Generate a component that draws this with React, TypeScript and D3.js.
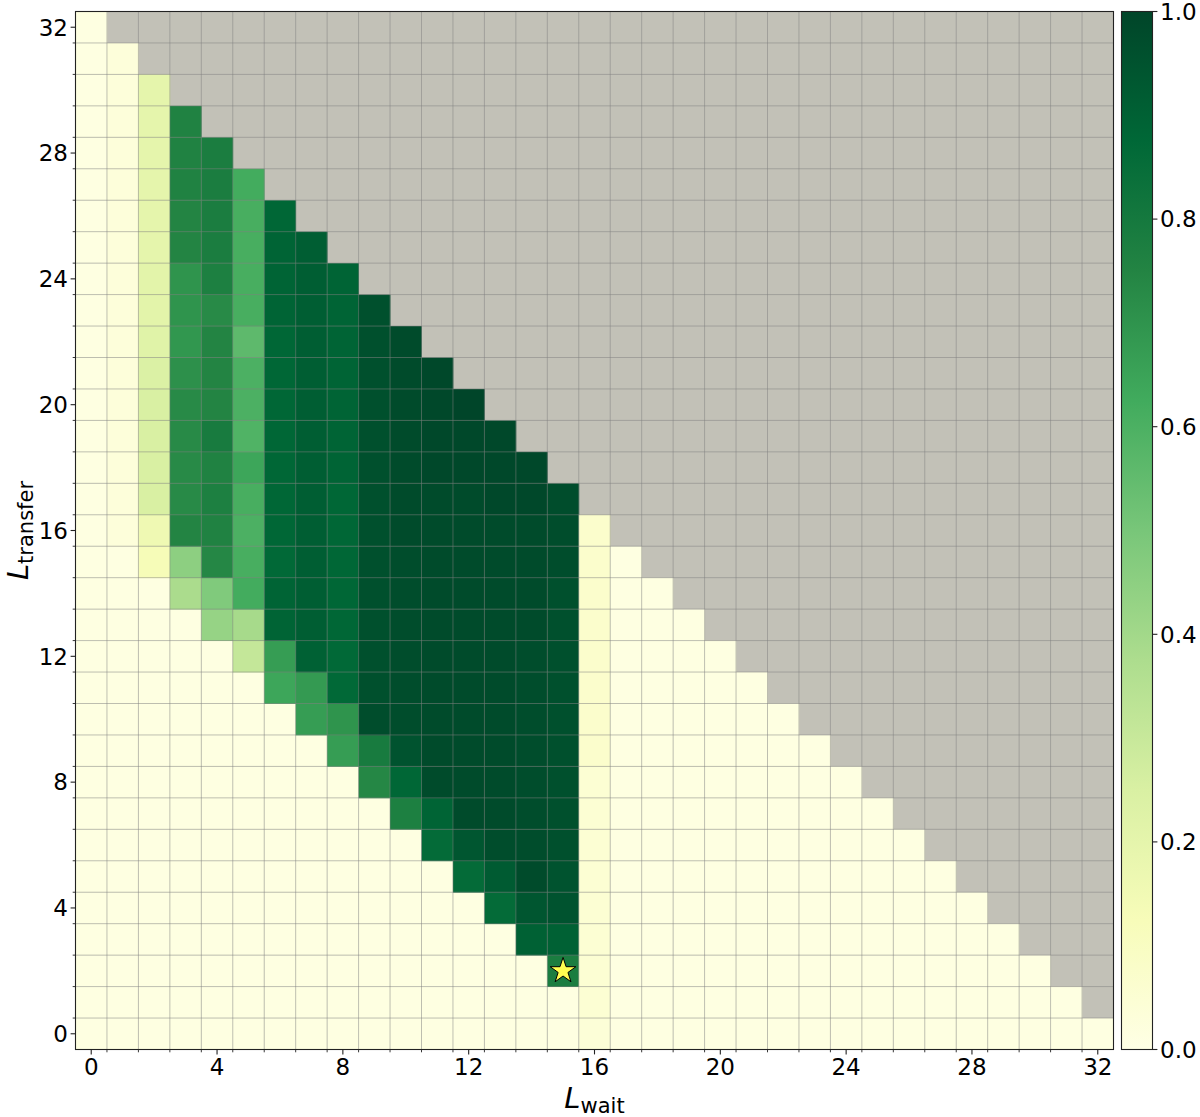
import React from 'react';
import * as d3 from 'd3';

// L_wait categories (columns) and L_transfer categories (rows)
const waitLevels = d3.range(0, 33);
const xTickValues = [0, 4, 8, 12, 16, 20, 24, 28, 32];
const yTickValues = [0, 4, 8, 12, 16, 20, 24, 28, 32];
const cbTickValues = [0, 0.2, 0.4, 0.6, 0.8, 1.0];

// YlGn colormap anchor colours
const ylgn = ['#ffffe5', '#f7fcb9', '#d9f0a3', '#addd8e', '#78c679', '#41ab5d', '#238443', '#006837', '#004529'];

// Values (in %) for each L_wait column, indexed by L_transfer from 0 upward.
// Cells beyond the end of each column (L_wait + L_transfer > 32) are masked (grey).
const heat: number[][] = [
  /* w0 */ [1,1,1,1,1,1,1,1,1,1,1,1,1,1,1,1,1,1,1,1,1,1,1,1,1,1,1,1,1,1,1,1,1],
  /* w1 */ [1,1,1,1,1,1,1,1,1,1,1,1,1,1,1,1,3,3,3,3,3,3,3,3,3,3,3,3,3,3,3,3],
  /* w2 */ [1,1,1,1,1,1,1,1,1,1,1,1,1,1,1,13,16,25,25,25,25,24,22,21,21,20,20,20,20,20,20],
  /* w3 */ [1,1,1,1,1,1,1,1,1,1,1,1,1,1,38,45,75,73,73,73,73,71,69,70,70,75,75,76,76,76],
  /* w4 */ [1,1,1,1,1,1,1,1,1,1,1,1,1,43,48,74,76,77,76,79,75,75,75,73,77,78,78,78,78],
  /* w5 */ [1,1,1,1,1,1,1,1,1,1,1,1,31,39,62,61,60,61,64,59,60,60,56,61,61,61,61,62],
  /* w6 */ [1,1,1,1,1,1,1,1,1,1,1,64,67,89,89,87,88,88,88,88,88,88,88,89,89,89,88],
  /* w7 */ [1,1,1,1,1,1,1,1,1,1,67,68,90,91,91,91,91,91,91,91,91,91,91,91,91,91],
  /* w8 */ [1,1,1,1,1,1,1,1,1,67,70,87,87,88,88,88,88,88,89,89,89,89,89,89,89],
  /* w9 */ [1,1,1,1,1,1,1,1,74,79,97,96,96,96,96,96,96,96,96,96,96,96,96,96],
  /* w10 */ [1,1,1,1,1,1,1,77,88,95,97,97,97,97,97,97,98,98,98,98,98,98,98],
  /* w11 */ [1,1,1,1,1,1,86,89,98,98,98,98,98,98,98,98,98,98,99,99,99,99],
  /* w12 */ [1,1,1,1,1,86,94,98,98,98,98,98,98,98,98,98,98,98,99,99,100],
  /* w13 */ [1,1,1,1,86,92,97,98,98,98,98,98,98,98,98,98,98,99,99,99],
  /* w14 */ [1,1,1,90,94,98,97,97,97,97,97,97,97,98,98,98,98,99,99],
  /* w15 */ [1,1,78,90,95,95,96,96,96,96,96,96,96,96,96,97,97,97],
  /* w16 */ [4,5,5,5,5,5,5,5,5,7,7,7,7,7,7,7,7],
  /* w17 */ [1,1,1,1,1,1,1,1,1,1,1,1,1,1,1,1],
  /* w18 */ [1,1,1,1,1,1,1,1,1,1,1,1,1,1,1],
  /* w19 */ [1,1,1,1,1,1,1,1,1,1,1,1,1,1],
  /* w20 */ [1,1,1,1,1,1,1,1,1,1,1,1,1],
  /* w21 */ [1,1,1,1,1,1,1,1,1,1,1,1],
  /* w22 */ [1,1,1,1,1,1,1,1,1,1,1],
  /* w23 */ [1,1,1,1,1,1,1,1,1,1],
  /* w24 */ [1,1,1,1,1,1,1,1,1],
  /* w25 */ [1,1,1,1,1,1,1,1],
  /* w26 */ [1,1,1,1,1,1,1],
  /* w27 */ [1,1,1,1,1,1],
  /* w28 */ [1,1,1,1,1],
  /* w29 */ [1,1,1,1],
  /* w30 */ [1,1,1],
  /* w31 */ [1,1],
  /* w32 */ [1],
];

// Highlighted optimum (L_wait, L_transfer)
const starPoint = { wait: 15, transfer: 2 };

function starPath(cx: number, cy: number, R: number, r: number) {
  const pts: [number, number][] = [];
  for (let i = 0; i < 10; i++) {
    const ang = -Math.PI / 2 + (i * Math.PI) / 5;
    const rad = i % 2 === 0 ? R : r;
    pts.push([cx + rad * Math.cos(ang), cy + rad * Math.sin(ang)]);
  }
  return 'M' + pts.map((p) => p[0].toFixed(2) + ',' + p[1].toFixed(2)).join('L') + 'Z';
}

export default function App() {
  const left = 75.5, top = 11.5, size = 1038;
  const right = left + size, bottom = top + size;
  const n = waitLevels.length;
  const x = d3.scaleLinear().domain([-0.5, n - 0.5]).range([left, right]);
  const y = d3.scaleLinear().domain([-0.5, n - 0.5]).range([bottom, top]);
  const color = d3
    .scaleLinear<string>()
    .domain(ylgn.map((_, i) => i / (ylgn.length - 1)))
    .range(ylgn)
    .interpolate(d3.interpolateRgb)
    .clamp(true);

  const cbLeft = 1121.5, cbW = 31;
  const cbY = d3.scaleLinear().domain([0, 1]).range([bottom, top]);

  const boundaries = d3.range(0.5, n - 1, 1);
  const font = '"DejaVu Sans", Verdana, sans-serif';
  const majorLen = 4.9, minorLen = 2.8;

  const cellW = x(1) - x(0);
  const cellH = y(0) - y(1);

  return (
    <div style={{ position: 'fixed', left: 0, top: 0 }}>
      <svg width={1200} height={1117} style={{ display: 'block', fontFamily: font, background: '#fff' }}>
        <defs>
          <linearGradient id="cbgrad" x1="0" y1="1" x2="0" y2="0">
            {ylgn.map((c, i) => (
              <stop key={i} offset={i / (ylgn.length - 1)} stopColor={c} />
            ))}
          </linearGradient>
        </defs>
        {/* masked background */}
        <rect x={left} y={top} width={size} height={size} fill="#c2c1b7" />
        {/* cells */}
        {heat.map((col, w) =>
          col.map((v, t) => (
            <rect
              key={w + '-' + t}
              x={x(w - 0.5)}
              y={y(t + 0.5)}
              width={cellW + 0.4}
              height={cellH + 0.4}
              fill={color(v / 100)}
            />
          ))
        )}
        {/* grid lines at cell boundaries */}
        {boundaries.map((b) => (
          <g key={'g' + b}>
            <line x1={x(b)} x2={x(b)} y1={top} y2={bottom} stroke="#808080" strokeOpacity={0.5} strokeWidth={1} />
            <line x1={left} x2={right} y1={y(b)} y2={y(b)} stroke="#808080" strokeOpacity={0.5} strokeWidth={1} />
          </g>
        ))}
        {/* star marker */}
        <path
          d={starPath(x(starPoint.wait), y(starPoint.transfer), 13.5, 13.5 * 0.382)}
          fill="#ffff50"
          stroke="#000"
          strokeWidth={1}
          strokeLinejoin="miter"
        />
        {/* frame */}
        <rect x={left} y={top} width={size} height={size} fill="none" stroke="#222" strokeWidth={1.1} />
        {/* minor ticks */}
        {boundaries.map((b) => (
          <g key={'mt' + b}>
            <line x1={x(b)} x2={x(b)} y1={bottom} y2={bottom + minorLen} stroke="#222" strokeWidth={0.9} />
            <line x1={left} x2={left - minorLen} y1={y(b)} y2={y(b)} stroke="#222" strokeWidth={0.9} />
          </g>
        ))}
        {/* x major ticks */}
        {xTickValues.map((v) => (
          <g key={'xt' + v}>
            <line x1={x(v)} x2={x(v)} y1={bottom} y2={bottom + majorLen} stroke="#222" strokeWidth={1.1} />
            <text x={x(v)} y={bottom + 25} textAnchor="middle" fontSize={23} fill="#000">
              {v}
            </text>
          </g>
        ))}
        {/* y major ticks */}
        {yTickValues.map((v) => (
          <g key={'yt' + v}>
            <line x1={left} x2={left - majorLen} y1={y(v)} y2={y(v)} stroke="#222" strokeWidth={1.1} />
            <text x={left - 7.5} y={y(v)} dy="0.36em" textAnchor="end" fontSize={23} fill="#000">
              {v}
            </text>
          </g>
        ))}
        {/* x label */}
        <text x={(left + right) / 2} y={1108} textAnchor="middle" fill="#000">
          <tspan fontSize={29} fontStyle="italic">L</tspan>
          <tspan fontSize={21} dy={5}>wait</tspan>
        </text>
        {/* y label */}
        <text transform={`translate(28, ${(top + bottom) / 2}) rotate(-90)`} textAnchor="middle" fill="#000">
          <tspan fontSize={29} fontStyle="italic">L</tspan>
          <tspan fontSize={21} dy={5}>transfer</tspan>
        </text>
        {/* colorbar */}
        <rect x={cbLeft} y={top} width={cbW} height={size} fill="url(#cbgrad)" />
        <rect x={cbLeft} y={top} width={cbW} height={size} fill="none" stroke="#222" strokeWidth={1.1} />
        {cbTickValues.map((v) => (
          <g key={'cb' + v}>
            <line x1={cbLeft + cbW} x2={cbLeft + cbW + majorLen} y1={cbY(v)} y2={cbY(v)} stroke="#222" strokeWidth={1.1} />
            <text x={cbLeft + cbW + 7.5} y={cbY(v)} dy="0.36em" fontSize={23} fill="#000">
              {v.toFixed(1)}
            </text>
          </g>
        ))}
      </svg>
    </div>
  );
}
